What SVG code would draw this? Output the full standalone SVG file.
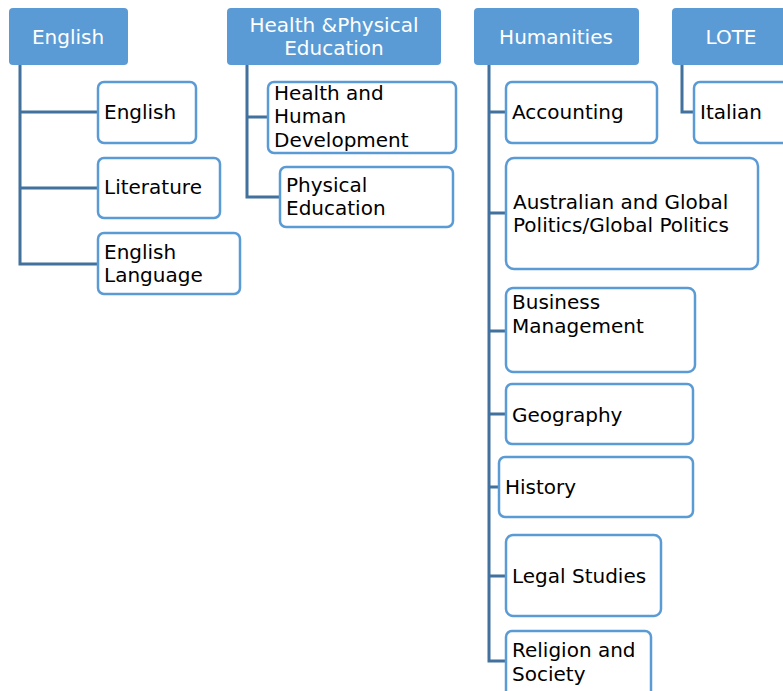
<svg xmlns="http://www.w3.org/2000/svg" width="783" height="691" viewBox="0 0 783 691">
<style>
.hdr{fill:#5B9BD5;}
.hdr-t{fill:#fff;font-family:"DejaVu Sans",sans-serif;font-size:20px;text-anchor:middle;}
.box{fill:#fff;stroke:#5B9BD5;stroke-width:2.5;}
.t{fill:#000;font-family:"DejaVu Sans",sans-serif;font-size:20px;}
.con{fill:none;stroke:#41719C;stroke-width:3;}
</style>
<rect width="783" height="691" fill="#fff"/>
<g id="connectors">
<path class="con" d="M20,65 V264 H98 M20,112 H98 M20,188 H98"/>
<path class="con" d="M247,65 V197 H280 M247,117 H268"/>
<path class="con" d="M489,65 V661 H506 M489,112 H506 M489,213 H506 M489,331 H506 M489,414 H506 M489,487 H499 M489,576 H506"/>
<path class="con" d="M682,65 V112 H694"/>
</g>
<g id="h-english"><rect class="hdr" x="9" y="8" width="119" height="57" rx="4"/><text class="hdr-t" x="68" y="44">English</text></g>
<g id="h-health"><rect class="hdr" x="227" y="8" width="214" height="57" rx="4"/><text class="hdr-t" x="334" y="32">Health &amp;Physical</text><text class="hdr-t" x="334" y="55">Education</text></g>
<g id="h-humanities"><rect class="hdr" x="474" y="8" width="165" height="57" rx="4"/><text class="hdr-t" x="556" y="44">Humanities</text></g>
<g id="h-lote"><rect class="hdr" x="672" y="8" width="118" height="57" rx="4"/><text class="hdr-t" x="731" y="44">LOTE</text></g>

<g id="c-english"><rect class="box" x="98" y="82" width="98" height="61" rx="6"/><text class="t" x="104" y="119">English</text></g>
<g id="c-literature"><rect class="box" x="98" y="158" width="122" height="60" rx="6"/><text class="t" x="104" y="194">Literature</text></g>
<g id="c-englang"><rect class="box" x="98" y="233" width="142" height="61" rx="6"/><text class="t" x="104" y="259">English</text><text class="t" x="104" y="282">Language</text></g>

<g id="c-hhd"><rect class="box" x="268" y="82" width="188" height="71" rx="6"/><text class="t" x="274" y="100">Health and</text><text class="t" x="274" y="123">Human</text><text class="t" x="274" y="147">Development</text></g>
<g id="c-pe"><rect class="box" x="280" y="167" width="173" height="60" rx="6"/><text class="t" x="286" y="192">Physical</text><text class="t" x="286" y="215">Education</text></g>

<g id="c-accounting"><rect class="box" x="506" y="82" width="151" height="61" rx="6"/><text class="t" x="512" y="119">Accounting</text></g>
<g id="c-politics"><rect class="box" x="506" y="158" width="252" height="111" rx="8"/><text class="t" x="513" y="209">Australian and Global</text><text class="t" x="513" y="232">Politics/Global Politics</text></g>
<g id="c-business"><rect class="box" x="506" y="288" width="189" height="84" rx="7"/><text class="t" x="512" y="309">Business</text><text class="t" x="512" y="333">Management</text></g>
<g id="c-geography"><rect class="box" x="506" y="384" width="187" height="60" rx="6"/><text class="t" x="512" y="422">Geography</text></g>
<g id="c-history"><rect class="box" x="499" y="457" width="194" height="60" rx="6"/><text class="t" x="505" y="494">History</text></g>
<g id="c-legal"><rect class="box" x="506" y="535" width="155" height="81" rx="7"/><text class="t" x="512" y="583">Legal Studies</text></g>
<g id="c-religion"><rect class="box" x="506" y="631" width="145" height="70" rx="6"/><text class="t" x="512" y="657">Religion and</text><text class="t" x="512" y="681">Society</text></g>

<g id="c-italian"><rect class="box" x="694" y="82" width="100" height="61" rx="6"/><text class="t" x="700" y="119">Italian</text></g>
</svg>
